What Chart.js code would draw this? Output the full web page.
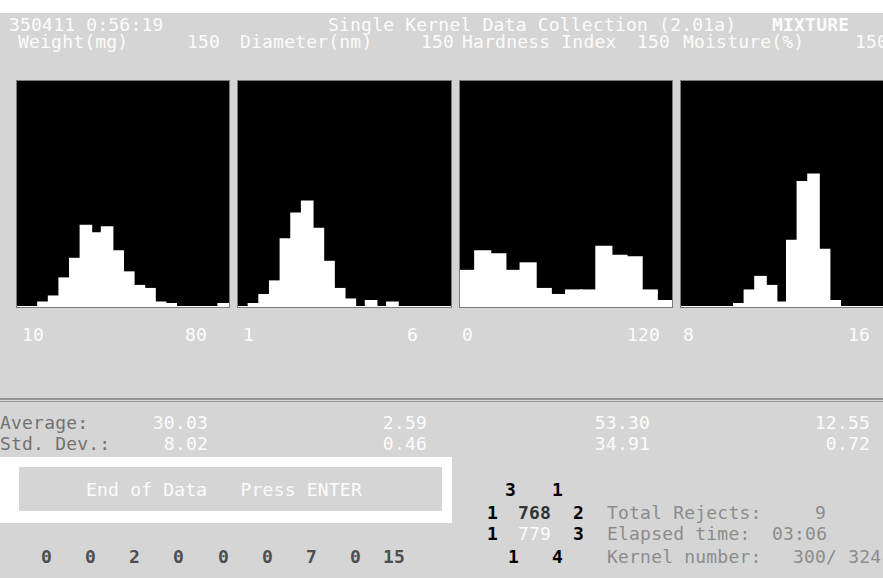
<!DOCTYPE html>
<html>
<head>
<meta charset="utf-8">
<script src="https://cdn.jsdelivr.net/npm/chart.js@4.4.1/dist/chart.umd.min.js"></script>
<style>
html, body { margin: 0; padding: 0; overflow: hidden; background: #d5d5d5; }
#screen { position: relative; width: 883px; height: 578px; overflow: hidden; background: #d5d5d5; }
.txt { position: absolute; white-space: pre; font-family: "DejaVu Sans Mono", monospace; font-size: 18px; line-height: 18px; letter-spacing: 0.2px; color: #fcfcfc; }
.b { font-weight: bold; }
.panel { position: absolute; top: 81px; height: 226px; background: #000; box-shadow: 0 0 0 1px #7c7c7c; }
.blk { position: absolute; }
</style>
</head>
<body>
<div id="screen">
  <div class="blk" style="left:0;top:0;width:883px;height:13px;background:#fff"></div>
  <div class="panel" style="left:17px;width:212px"><canvas id="h1"></canvas></div>
  <div class="panel" style="left:238px;width:213px"><canvas id="h2"></canvas></div>
  <div class="panel" style="left:460px;width:212px"><canvas id="h3"></canvas></div>
  <div class="panel" style="left:681px;width:212px"><canvas id="h4"></canvas></div>
  <div class="blk" style="left:0;top:398px;width:883px;height:2px;background:#959595"></div>
  <div class="blk" style="left:0;top:401px;width:883px;height:1px;background:#959595"></div>
  <div class="blk" style="left:0;top:457px;width:452px;height:66px;background:#fff"></div>
  <div class="blk" style="left:19px;top:467px;width:423px;height:44px;background:#d5d5d5"></div>
</div>
<script>
// 画面のデータ
var panelTitles = ["Weight(mg)", "Diameter(nm)", "Hardness Index", "Moisture(%)"];
var panelMax = [150, 150, 150, 150];
var axisLow = ["10", "1", "0", "8"];
var axisHigh = ["80", "6", "120", "16"];
var averages = ["30.03", "2.59", "53.30", "12.55"];
var stdDevs = ["8.02", "0.46", "34.91", "0.72"];

// ヒストグラムの度数
var weightCounts = [0, 0, 3, 7, 19, 32, 54, 49, 53, 37, 23, 14, 12, 3, 2, 0, 0, 0, 0, 2];
var diameterCounts = [0, 2, 8, 17, 45, 62, 70, 52, 30, 12, 5, 0, 4, 0, 3, 0, 0, 0, 0, 0];
var hardnessCounts = [24, 37, 35, 24, 29, 12, 8, 11, 11, 40, 34, 33, 11, 4];
var moistureCounts = [0, 0, 0, 0, 0, 2, 11, 20, 14, 3, 44, 83, 88, 38, 4, 0, 0, 0, 0, 0];

var rejectCounts = ["0", "0", "2", "0", "0", "0", "7", "0", "15"];
var totalRejects = "9";
var elapsedTime = "03:06";
var kernelNumber = "300/ 324";

var screen = document.getElementById("screen");

function put(text, x, y, color, bold, right) {
    var d = document.createElement("div");
    d.className = "txt" + (bold ? " b" : "");
    d.textContent = text;
    d.style.top = y + "px";
    if (right) {
        d.style.right = (883 - x) + "px";
    } else {
        d.style.left = x + "px";
    }
    if (color) d.style.color = color;
    screen.appendChild(d);
}

// 一行目
put("350411 0:56:19", 9, 16);
put("Single Kernel Data Collection (2.01a)", 328, 16);
put("MIXTURE", 772, 16, null, true);

// パネルの見出し
var titleX = [18, 240, 462, 683];
var maxX = [187, 421, 637, 855];
var lowX = [22, 243, 462, 683];
var highRight = [207, 418, 660, 870];
var statRight = [208, 427, 650, 870];
for (var i = 0; i < 4; i++) {
    put(panelTitles[i], titleX[i], 33);
    put(String(panelMax[i]), maxX[i], 33);
    put(axisLow[i], lowX[i], 326);
    put(axisHigh[i], highRight[i], 326, null, false, true);
    put(averages[i], statRight[i], 414, null, false, true);
    put(stdDevs[i], statRight[i], 435, null, false, true);
}
put("Average:", 0, 414, "#727272");
put("Std. Dev.:", 0, 435, "#727272");

put("End of Data   Press ENTER", 86, 481);

// 下の行
var rejX = [41, 85, 129, 173, 218, 262, 306, 350, 383];
for (var k = 0; k < rejectCounts.length; k++) {
    put(rejectCounts[k], rejX[k], 548, "#4f4f4f", true);
}

put("3", 505, 481, "#000", true);
put("1", 552, 481, "#000", true);
put("1", 487, 504, "#000", true);
put("768", 518, 504, "#333", true);
put("2", 573, 504, "#000", true);
put("1", 487, 525, "#000", true);
put("779", 518, 525, "#fcfcfc", false);
put("3", 573, 525, "#000", true);
put("1", 508, 548, "#000", true);
put("4", 552, 548, "#000", true);

put("Total Rejects:", 607, 504, "#8c8c8c");
put(totalRejects, 815, 504, "#8c8c8c");
put("Elapsed time:", 607, 525, "#8c8c8c");
put(elapsedTime, 772, 525, "#8c8c8c");
put("Kernel number:", 607, 548, "#8c8c8c");
put(kernelNumber, 793, 548, "#8c8c8c");

function makeHist(id, counts, max) {
    return new Chart(document.getElementById(id), {
        type: "bar",
        data: {
            labels: counts.map(function (c, i) { return i; }),
            datasets: [{
                data: counts,
                backgroundColor: "#ffffff",
                borderWidth: 0,
                inflateAmount: 1,
                barPercentage: 1,
                categoryPercentage: 1,
            }],
        },
        options: {
            responsive: true,
            maintainAspectRatio: false,
            animation: false,
            layout: { padding: 0 },
            plugins: {
                legend: { display: false },
                tooltip: { enabled: false },
            },
            scales: {
                x: {
                    display: true,
                    grid: { display: false, drawTicks: false },
                    ticks: { display: false },
                    border: { display: true, color: "#8c8c8c", width: 2 },
                },
                y: { display: false, min: 0, max: max },
            },
        },
    });
}

makeHist("h1", weightCounts, panelMax[0]);
makeHist("h2", diameterCounts, panelMax[1]);
makeHist("h3", hardnessCounts, panelMax[2]);
makeHist("h4", moistureCounts, panelMax[3]);
</script>
</body>
</html>
